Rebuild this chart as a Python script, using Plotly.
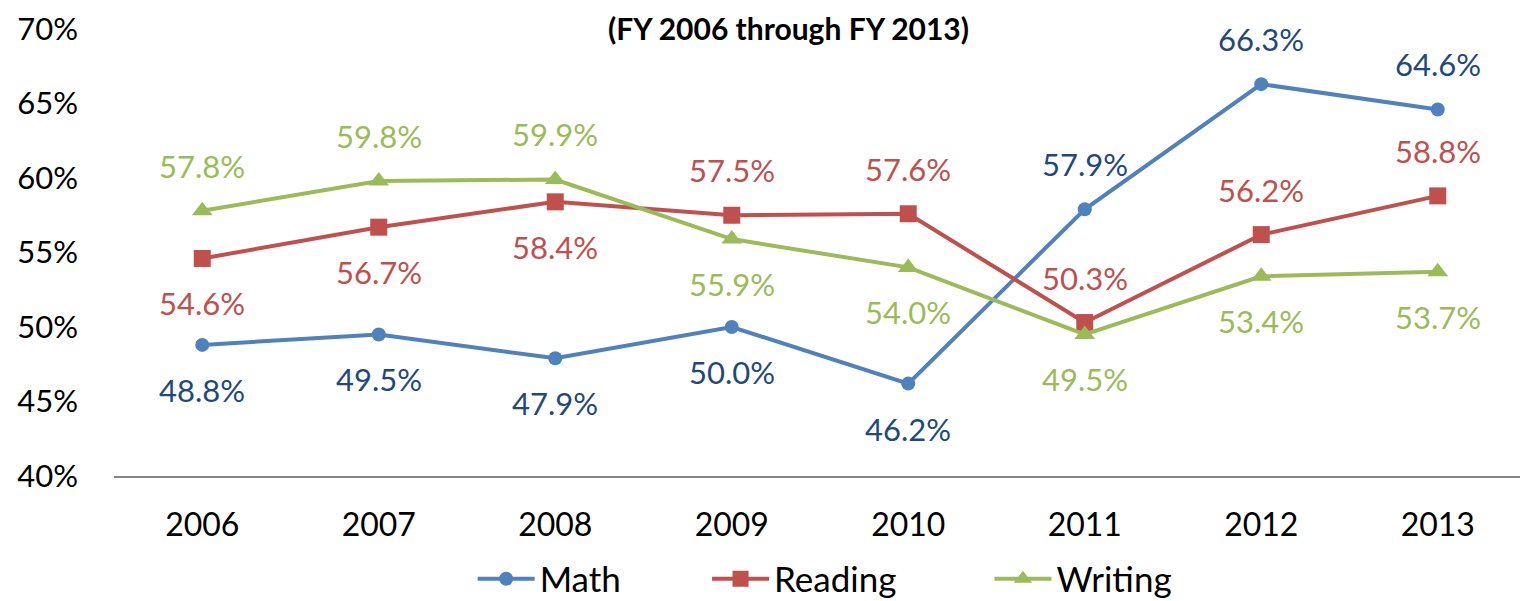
import plotly.graph_objects as go

years = ["2006", "2007", "2008", "2009", "2010", "2011", "2012", "2013"]
math = [48.8, 49.5, 47.9, 50.0, 46.2, 57.9, 66.3, 64.6]
reading = [54.6, 56.7, 58.4, 57.5, 57.6, 50.3, 56.2, 58.8]
writing = [57.8, 59.8, 59.9, 55.9, 54.0, 49.5, 53.4, 53.7]
# label placement: 1 = above, -1 = below
math_pos = [-1, -1, -1, -1, -1, 1, 1, 1]
reading_pos = [-1, -1, -1, 1, 1, 1, 1, 1]
writing_pos = [1, 1, 1, -1, -1, -1, -1, -1]
y_ticks = [40, 45, 50, 55, 60, 65, 70]

FONT = "Lato"
series = [
    ("Math", math, math_pos, "#4F81BD", "#1F497D", "circle", 14, "legend", 0.254),
    ("Reading", reading, reading_pos, "#C0504D", "#C0504D", "square", 17, "legend2", 0.420),
    ("Writing", writing, writing_pos, "#9BBB59", "#9BBB59", "triangle-up", 18, "legend3", 0.620),
]

fig = go.Figure()
annotations = []
legends = {}
for name, vals, pos, col, lab_col, sym, msize, leg, legx in series:
    fig.add_trace(go.Scatter(
        x=years, y=vals, name=name, mode="lines+markers",
        line=dict(color=col, width=4),
        marker=dict(symbol=sym, size=msize, color=col),
        legend=leg,
    ))
    legends[leg] = dict(orientation="h", x=legx, xanchor="left",
                        yref="container", y=1 - 571 / 593, yanchor="middle",
                        font=dict(family=FONT, size=35, color="black"),
                        itemwidth=57, bgcolor="rgba(0,0,0,0)")
    for i, (v, p) in enumerate(zip(vals, pos)):
        annotations.append(dict(
            x=i, y=v, xref="x", yref="y", text=f"{v:.1f}%",
            showarrow=False, yshift=45 * p,
            font=dict(family=FONT, size=31, color=lab_col),
        ))

annotations.append(dict(
    x=0.478, y=1, xref="paper", yref="paper", xanchor="center", yanchor="top",
    yshift=21, text="<b>(FY 2006 through FY 2013)</b>", showarrow=False,
    font=dict(family=FONT, size=30, color="black"),
))

fig.update_layout(
    width=1520, height=593,
    margin=dict(l=106, r=2, t=21, b=125, autoexpand=False),
    paper_bgcolor="white", plot_bgcolor="white",
    font=dict(family=FONT, size=31, color="black"),
    annotations=annotations,
    showlegend=True,
    xaxis=dict(type="category", showgrid=False, showline=True, linecolor="#868686",
               linewidth=1.5, ticks="", tickfont=dict(size=32), range=[-0.5, 7.5],
               ticklabelstandoff=20, automargin=False, ticklabeloverflow="allow"),
    yaxis=dict(range=[40, 70], tickvals=y_ticks, ticktext=[f"{t}%" for t in y_ticks],
               showgrid=False, zeroline=False, showline=False, ticks="",
               tickfont=dict(size=31), ticklabelstandoff=35, automargin=False,
               ticklabeloverflow="allow"),
    **legends,
)

fig.write_html("out.html")
